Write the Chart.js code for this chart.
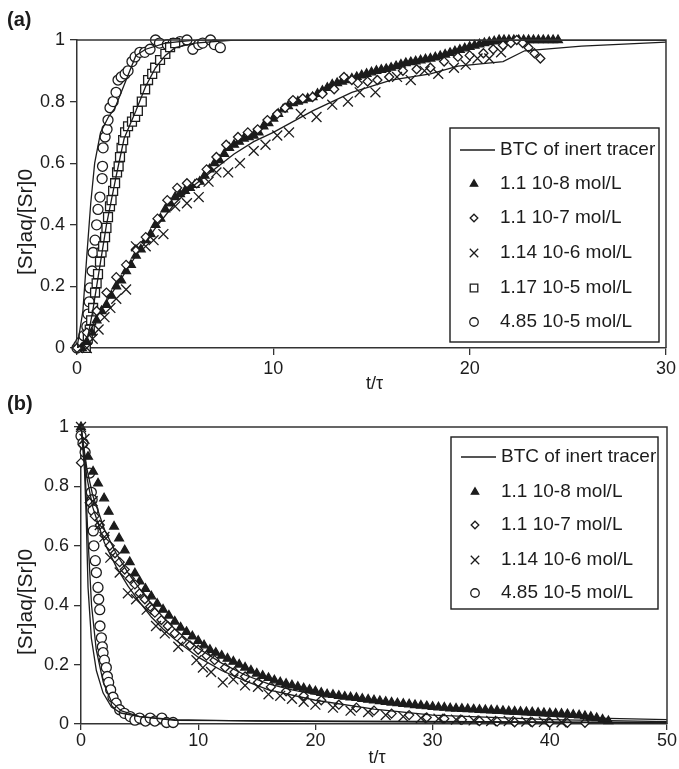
<!DOCTYPE html>
<html>
<head>
<meta charset="utf-8">
<script src="https://cdn.jsdelivr.net/npm/chart.js@4/dist/chart.umd.min.js"></script>
<style>
  body { margin: 0; background: #fff; }
  .panel { position: absolute; left: 0; }
</style>
</head>
<body>
<div class="panel" style="top:0px"><canvas id="chart-a" width="679" height="392"></canvas></div>
<div class="panel" style="top:380px"><canvas id="chart-b" width="679" height="389"></canvas></div>
<script>
// ---- panel (a) data ----
const aBtcFastX = [0, 0.3, 0.5, 0.7, 0.9, 1.2, 1.6, 1.94, 3.0, 3.5, 4.5, 6, 30];
const aBtcFastY = [0, 0.12, 0.3, 0.47, 0.6, 0.7, 0.75, 0.78, 0.95, 0.97, 0.99, 1.0, 1.0];
const aBtcMidX = [0, 0.5, 0.8, 1.0, 1.5, 2.0, 2.4, 3.0, 3.5, 4.0, 4.5, 5.0, 6, 8, 30];
const aBtcMidY = [0, 0.02, 0.12, 0.2, 0.4, 0.56, 0.68, 0.77, 0.85, 0.91, 0.95, 0.975, 0.99, 1.0, 1.0];
const aBtcSlowX = [0, 0.5, 1, 2, 3, 4, 5, 6, 7, 8, 9, 10, 12, 14, 16, 18, 19.4, 21.7, 22.8, 25.7, 30];
const aBtcSlowY = [0, 0.03, 0.1, 0.2, 0.3, 0.39, 0.47, 0.53, 0.58, 0.63, 0.67, 0.7, 0.77, 0.83, 0.87, 0.89, 0.915, 0.93, 0.965, 0.98, 0.993];

const aTriX = [0.25, 0.5, 0.75, 1, 1.25, 1.5, 1.75, 2, 2.25, 2.5, 2.75, 3, 3.25, 3.5, 3.75, 4, 4.25, 4.5, 4.75, 5,
  5.25, 5.5, 5.75, 6, 6.25, 6.5, 6.75, 7, 7.25, 7.5, 7.75, 8, 8.25, 8.5, 8.75, 9, 9.25, 9.5, 9.75, 10,
  10.25, 10.5, 10.75, 11, 11.25, 11.5, 11.75, 12, 12.25, 12.5, 12.75, 13, 13.25, 13.5, 13.75, 14, 14.25, 14.5, 14.75, 15,
  15.25, 15.5, 15.75, 16, 16.25, 16.5, 16.75, 17, 17.25, 17.5, 17.75, 18, 18.25, 18.5, 18.75, 19, 19.25, 19.5, 19.75, 20,
  20.25, 20.5, 20.75, 21, 21.25, 21.5, 21.75, 22, 22.25, 22.5, 22.75, 23, 23.25, 23.5, 23.75, 24, 24.25, 24.5];
const aTriY = [0, 0.02, 0.05, 0.09, 0.12, 0.14, 0.17, 0.2, 0.22, 0.25, 0.27, 0.3, 0.32, 0.35, 0.37, 0.4, 0.42, 0.45, 0.47, 0.49,
  0.5, 0.51, 0.52, 0.53, 0.54, 0.56, 0.58, 0.6, 0.61, 0.63, 0.65, 0.66, 0.67, 0.68, 0.685, 0.69, 0.7, 0.72, 0.73, 0.745,
  0.76, 0.775, 0.785, 0.795, 0.8, 0.805, 0.81, 0.815, 0.825, 0.835, 0.845, 0.855, 0.86, 0.865, 0.87, 0.875, 0.88, 0.885, 0.89, 0.895,
  0.9, 0.903, 0.906, 0.91, 0.915, 0.92, 0.925, 0.928, 0.931, 0.934, 0.937, 0.94, 0.944, 0.948, 0.953, 0.958, 0.963, 0.968, 0.973, 0.978,
  0.982, 0.986, 0.99, 0.993, 0.996, 1.0, 1.0, 1.0, 1.0, 1.0, 1.0, 1.0, 1.0, 1.0, 1.0, 1.0, 1.0, 1.0];
const aDiaX = [0, 0.5, 1.0, 1.5, 2.0, 2.5, 3.0, 3.5, 4.1, 4.6, 5.1, 5.6, 6.1, 6.6, 7.1, 7.6, 8.2, 8.7, 9.2, 9.7, 10.2, 10.6, 11.0, 11.5, 12.0, 12.5, 13.1, 13.6, 14.0, 14.3, 14.8, 15.3, 15.9, 16.6, 17.3, 18.0, 18.7, 19.4, 20.0, 20.7, 21.2, 21.7, 22.1, 22.4, 22.7, 23.0, 23.3, 23.6];
const aDiaY = [0, 0.05, 0.12, 0.18, 0.23, 0.27, 0.32, 0.36, 0.42, 0.48, 0.52, 0.535, 0.535, 0.58, 0.62, 0.66, 0.685, 0.7, 0.71, 0.74, 0.76, 0.78, 0.805, 0.81, 0.815, 0.825, 0.84, 0.88, 0.87, 0.86, 0.865, 0.87, 0.88, 0.9, 0.905, 0.91, 0.93, 0.945, 0.95, 0.957, 0.97, 0.983, 0.99, 1.0, 0.99, 0.975, 0.957, 0.94];
const aCrsX = [0.5, 0.8, 1.1, 1.4, 1.7, 2.0, 2.5, 3.0, 3.5, 3.9, 4.4, 5.0, 5.6, 6.2, 6.7, 7.1, 7.7, 8.3, 9.0, 9.6, 10.2, 10.8, 11.4, 12.2, 13.0, 13.8, 14.4, 15.2, 16.3, 17.0, 17.7, 18.4, 19.2, 19.8, 20.4, 21.0, 21.6];
const aCrsY = [0, 0.03, 0.06, 0.1, 0.13, 0.16, 0.19, 0.33, 0.33, 0.35, 0.37, 0.46, 0.47, 0.49, 0.54, 0.57, 0.57, 0.6, 0.64, 0.66, 0.69, 0.7, 0.76, 0.75, 0.79, 0.8, 0.83, 0.83, 0.88, 0.87, 0.9, 0.89, 0.91, 0.92, 0.94, 0.94, 0.96];
const aSqrX = [0.45, 0.55, 0.65, 0.72, 0.82, 0.92, 1.0, 1.07, 1.17, 1.25, 1.33, 1.43, 1.5, 1.58, 1.68, 1.76, 1.84, 1.94, 2.04, 2.12, 2.19, 2.27, 2.35, 2.45, 2.6, 2.8, 2.96, 3.1, 3.3, 3.47, 3.62, 3.83, 3.98, 4.23, 4.5, 4.74, 5.0];
const aSqrY = [0, 0.03, 0.06, 0.09, 0.13, 0.18, 0.21, 0.24, 0.28, 0.31, 0.33, 0.36, 0.39, 0.425, 0.46, 0.48, 0.51, 0.535, 0.57, 0.59, 0.62, 0.65, 0.675, 0.7, 0.72, 0.735, 0.75, 0.77, 0.8, 0.84, 0.87, 0.89, 0.91, 0.935, 0.955, 0.977, 0.99];
const aCirX = [0, 0.1, 0.2, 0.35, 0.5, 0.56, 0.62, 0.66, 0.77, 0.82, 0.92, 1.0, 1.07, 1.17, 1.28, 1.3, 1.33, 1.43, 1.53, 1.58, 1.68, 1.84, 1.99, 2.09, 2.25, 2.45, 2.6, 2.8, 2.96, 3.2, 3.45, 3.72, 4.0, 4.2, 4.6, 4.9, 5.25, 5.6, 5.9, 6.2, 6.4, 6.8, 7.0, 7.3];
const aCirY = [0, 0.01, 0.02, 0.04, 0.07, 0.11, 0.15, 0.195, 0.25, 0.31, 0.35, 0.4, 0.45, 0.49, 0.55, 0.59, 0.65, 0.685, 0.71, 0.74, 0.78, 0.8, 0.83, 0.87, 0.88, 0.89, 0.9, 0.93, 0.945, 0.96, 0.96, 0.97, 1.0, 0.99, 0.985, 0.99, 0.995, 1.0, 0.97, 0.985, 0.99, 1.0, 0.985, 0.975];

// ---- panel (b) data ----
const bBtcFastX = [0, 0.15, 0.3, 0.45, 0.6, 0.88, 1.31, 1.88, 2.6, 3.4, 5, 8, 15, 30, 50];
const bBtcFastY = [1, 0.93, 0.855, 0.69, 0.46, 0.29, 0.18, 0.105, 0.057, 0.037, 0.025, 0.015, 0.01, 0.006, 0.004];
const bBtcFast2X = [0, 0.3, 0.6, 0.9, 1.3, 1.9, 2.6, 3.4, 5, 8, 50];
const bBtcFast2Y = [1, 0.9, 0.62, 0.4, 0.25, 0.14, 0.075, 0.045, 0.025, 0.012, 0.005];
const bBtcSlowX = [0, 0.5, 1, 2, 3, 4, 5, 6, 7, 8, 9, 10, 12, 14, 16, 18, 20, 23.8, 28, 32.4, 36, 40.9, 45, 50];
const bBtcSlowY = [1, 0.86, 0.77, 0.655, 0.575, 0.51, 0.455, 0.405, 0.36, 0.32, 0.285, 0.255, 0.205, 0.165, 0.135, 0.115, 0.1, 0.081, 0.062, 0.047, 0.035, 0.024, 0.019, 0.015];
const bBtcSlow2X = [0, 0.5, 1, 2, 3, 4, 5, 6, 7, 8, 10, 12, 14, 16, 20, 25, 30, 40, 50];
const bBtcSlow2Y = [1, 0.83, 0.73, 0.61, 0.53, 0.465, 0.41, 0.36, 0.32, 0.285, 0.225, 0.18, 0.145, 0.115, 0.08, 0.05, 0.03, 0.015, 0.008];

const bTriX = [0, 0.6, 1.03, 1.45, 1.97, 2.36, 2.82, 3.25, 3.73, 4.16, 4.6, 5.0, 5.5, 6.0, 6.5, 7.0, 7.5, 8.0, 8.5, 9, 9.5, 10, 10.5, 11, 11.5,
  12, 12.5, 13, 13.5, 14, 14.5, 15, 15.5, 16, 16.5, 17, 17.5, 18, 18.5, 19, 19.5, 20, 20.5, 21, 21.5, 22, 22.5, 23, 23.5, 24, 24.5,
  25, 25.5, 26, 26.5, 27, 27.5, 28, 28.5, 29, 29.5, 30, 30.5, 31, 31.5, 32, 32.5, 33, 33.5, 34, 34.5, 35, 35.5, 36, 36.5,
  37, 37.5, 38, 38.5, 39, 39.5, 40, 40.5, 41, 41.5, 42, 42.5, 43, 43.5, 44, 44.5, 45];
const bTriY = [1.0, 0.9, 0.85, 0.81, 0.76, 0.715, 0.665, 0.625, 0.585, 0.545, 0.507, 0.48, 0.455, 0.43, 0.405, 0.385, 0.365, 0.345, 0.325, 0.31, 0.295, 0.28, 0.265, 0.25, 0.24,
  0.23, 0.22, 0.21, 0.2, 0.19, 0.18, 0.17, 0.162, 0.155, 0.147, 0.14, 0.135, 0.13, 0.125, 0.12, 0.115, 0.11, 0.105, 0.1, 0.098, 0.095, 0.092, 0.09, 0.088, 0.085, 0.082,
  0.08, 0.077, 0.075, 0.072, 0.07, 0.068, 0.066, 0.064, 0.062, 0.06, 0.058, 0.056, 0.055, 0.053, 0.052, 0.051, 0.05, 0.049, 0.048, 0.047, 0.046, 0.045, 0.044, 0.043,
  0.042, 0.041, 0.04, 0.039, 0.038, 0.037, 0.036, 0.035, 0.034, 0.033, 0.031, 0.029, 0.027, 0.024, 0.02, 0.015, 0.01];
const bDiaX = [0, 0.15, 0.74, 1.17, 1.6, 2.0, 2.45, 2.9, 3.3, 3.73, 4.16, 4.6, 5.0, 5.45, 5.9, 6.3, 6.86, 7.4, 8.0, 8.6, 9.3, 10, 10.7, 11.4, 12.3, 13.1, 14, 15.1, 16.2, 17.5, 19, 20.5, 22, 23.5, 25, 26.5, 28, 29.5, 31, 32.5, 34, 35.5, 37, 38.5, 40, 41.5, 43];
const bDiaY = [0.88, 0.94, 0.745, 0.7, 0.67, 0.635, 0.6, 0.575, 0.545, 0.52, 0.49, 0.47, 0.44, 0.42, 0.395, 0.375, 0.35, 0.33, 0.305, 0.28, 0.265, 0.25, 0.23, 0.215, 0.19, 0.175, 0.16, 0.14, 0.125, 0.11, 0.095, 0.08, 0.065, 0.055, 0.045, 0.035, 0.03, 0.022, 0.018, 0.014, 0.01, 0.008, 0.006, 0.006, 0.005, 0.004, 0.004];
const bCrsX = [0, 0.3, 1.0, 1.6, 2.0, 2.5, 3.3, 4.0, 4.7, 5.6, 6.4, 7.15, 8.3, 9.85, 10.4, 11.1, 12.1, 13, 14, 15.1, 16, 17, 18, 19, 20, 21.5, 23, 24.5, 26, 27.5, 29, 30.5, 32, 33.5, 35, 36.5, 38, 39.5, 41];
const bCrsY = [1.0, 0.96, 0.75, 0.67, 0.63, 0.56, 0.51, 0.44, 0.42, 0.385, 0.33, 0.305, 0.26, 0.215, 0.19, 0.175, 0.14, 0.15, 0.13, 0.125, 0.1, 0.095, 0.085, 0.075, 0.065, 0.055, 0.045, 0.04, 0.03, 0.025, 0.02, 0.018, 0.015, 0.012, 0.01, 0.01, 0.008, 0.007, 0.006];
const bCirX = [0, 0.17, 0.35, 0.74, 0.88, 0.95, 1.03, 1.05, 1.1, 1.22, 1.31, 1.45, 1.51, 1.6, 1.62, 1.74, 1.82, 1.88, 2.0, 2.16, 2.25, 2.36, 2.53, 2.73, 3.0, 3.3, 3.7, 4.2, 4.6, 5.0, 5.5, 5.9, 6.3, 6.9, 7.3, 7.86];
const bCirY = [0.97, 0.946, 0.915, 0.845, 0.78, 0.755, 0.72, 0.65, 0.6, 0.55, 0.51, 0.46, 0.42, 0.385, 0.33, 0.29, 0.26, 0.24, 0.215, 0.19, 0.16, 0.14, 0.115, 0.09, 0.07, 0.048, 0.036, 0.025, 0.013, 0.02, 0.01, 0.02, 0.01, 0.02, 0.005, 0.005];

const ink = '#1c1c1c';
const fontFamily = '"Liberation Sans", Arial, sans-serif';

function pts(xs, ys) {
  return xs.map((x, i) => ({ x: x, y: ys[i] }));
}

function curve(xs, ys, label) {
  return {
    type: 'line', label: label, data: pts(xs, ys),
    borderColor: ink, borderWidth: 1.3, pointRadius: 0, tension: 0, fill: false
  };
}

function marks(xs, ys, label, style, radius, filled) {
  return {
    type: 'scatter', label: label, data: pts(xs, ys),
    pointStyle: style, pointRadius: radius, pointBorderWidth: 1.3,
    pointBorderColor: ink, pointBackgroundColor: filled ? ink : '#fff',
    clip: false
  };
}

// draws the frame, legend box and the panel texts
const panelDecor = {
  id: 'panelDecor',
  afterDraw(chart, args, o) {
    const { ctx, chartArea: a } = chart;
    ctx.save();
    ctx.strokeStyle = '#333';
    ctx.lineWidth = 1.5;
    ctx.beginPath();
    ctx.moveTo(a.left, a.top);
    ctx.lineTo(a.right, a.top);
    ctx.lineTo(a.right, a.bottom);
    ctx.stroke();

    // legend
    const lg = o.legend;
    ctx.fillStyle = '#fff';
    ctx.fillRect(lg.x, lg.y, lg.w, lg.h);
    ctx.strokeStyle = ink;
    ctx.lineWidth = 1.4;
    ctx.strokeRect(lg.x, lg.y, lg.w, lg.h);
    ctx.font = '19px ' + fontFamily;
    ctx.textBaseline = 'middle';
    ctx.textAlign = 'left';
    lg.items.forEach((item, i) => {
      const y = lg.rows[i];
      const ds = chart.data.datasets[item];
      if (ds.type === 'line') {
        ctx.strokeStyle = ink;
        ctx.lineWidth = 1.3;
        ctx.beginPath();
        ctx.moveTo(lg.x + 10, y);
        ctx.lineTo(lg.x + 45, y);
        ctx.stroke();
      } else {
        ctx.strokeStyle = ink;
        ctx.fillStyle = ds.pointBackgroundColor;
        ctx.lineWidth = 1.3;
        Chart.helpers.drawPoint(ctx, {
          pointStyle: ds.pointStyle, radius: ds.pointRadius * 0.85, rotation: 0, borderWidth: 1.3
        }, lg.x + 24, y);
      }
      ctx.fillStyle = ink;
      ctx.fillText(ds.label, lg.x + 50, y);
    });

    // panel letter and axis titles
    ctx.fillStyle = ink;
    ctx.font = 'bold 20px ' + fontFamily;
    ctx.fillText(o.letter, 7, o.letterY);
    ctx.font = '18px ' + fontFamily;
    ctx.textAlign = 'center';
    ctx.fillText('t/τ', (a.left + a.right) / 2 + 3, o.xTitleY);
    ctx.font = '21px ' + fontFamily;
    ctx.translate(26, o.yTitleY);
    ctx.rotate(-Math.PI / 2);
    ctx.fillText('[Sr]aq/[Sr]0', 0, 0);
    ctx.restore();
  }
};

function axes(xMax, plotLeft, xHeight, xPad, tickLen) {
  const tickFont = { family: fontFamily, size: 18 };
  return {
    x: {
      type: 'linear', min: 0, max: xMax,
      ticks: { stepSize: 10, color: ink, font: tickFont, padding: xPad, maxRotation: 0 },
      grid: { drawOnChartArea: false, tickLength: tickLen, color: '#333', lineWidth: 1.3 },
      border: { color: '#333', width: 1.5 },
      afterFit(scale) { scale.height = xHeight; }
    },
    y: {
      type: 'linear', min: 0, max: 1,
      ticks: {
        stepSize: 0.2, color: ink, font: tickFont, padding: 5,
        callback: value => String(Math.round(value * 10) / 10)
      },
      grid: { drawOnChartArea: false, tickLength: 7, color: '#333', lineWidth: 1.3 },
      border: { color: '#333', width: 1.5 },
      afterFit(scale) { scale.width = plotLeft; }
    }
  };
}

new Chart(document.getElementById('chart-a'), {
  type: 'scatter',
  data: {
    datasets: [
      curve(aBtcFastX, aBtcFastY, 'BTC of inert tracer'),
      curve(aBtcMidX, aBtcMidY, ''),
      curve(aBtcSlowX, aBtcSlowY, ''),
      marks(aCrsX, aCrsY, '1.14 10-6 mol/L', 'crossRot', 7, false),
      marks(aDiaX, aDiaY, '1.1 10-7 mol/L', 'rectRot', 4.5, false),
      marks(aTriX, aTriY, '1.1 10-8 mol/L', 'triangle', 5, true),
      marks(aSqrX, aSqrY, '1.17 10-5 mol/L', 'rect', 6.3, false),
      marks(aCirX, aCirY, '4.85 10-5 mol/L', 'circle', 5, false)
    ]
  },
  options: {
    responsive: false,
    animation: false,
    devicePixelRatio: 1,
    layout: { padding: { left: 0, right: 12, top: 40, bottom: 0 } },
    scales: axes(30, 77, 44, 3, 7),
    plugins: {
      legend: { display: false },
      tooltip: { enabled: false },
      panelDecor: {
        letter: '(a)', letterY: 20, xTitleY: 384, yTitleY: 222,
        legend: { x: 450, y: 128, w: 209, h: 214, items: [0, 5, 4, 3, 6, 7], rows: [150, 184, 218, 253, 288, 322] }
      }
    }
  },
  plugins: [panelDecor]
});

new Chart(document.getElementById('chart-b'), {
  type: 'scatter',
  data: {
    datasets: [
      curve(bBtcFastX, bBtcFastY, 'BTC of inert tracer'),
      curve(bBtcFast2X, bBtcFast2Y, ''),
      curve(bBtcSlowX, bBtcSlowY, ''),
      curve(bBtcSlow2X, bBtcSlow2Y, ''),
      marks(bCrsX, bCrsY, '1.14 10-6 mol/L', 'crossRot', 7, false),
      marks(bDiaX, bDiaY, '1.1 10-7 mol/L', 'rectRot', 4.5, false),
      marks(bTriX, bTriY, '1.1 10-8 mol/L', 'triangle', 5, true),
      marks(bCirX, bCirY, '4.85 10-5 mol/L', 'circle', 5, false)
    ]
  },
  options: {
    responsive: false,
    animation: false,
    devicePixelRatio: 1,
    layout: { padding: { left: 0, right: 12, top: 47, bottom: 0 } },
    scales: axes(50, 81, 45, 0, 6),
    plugins: {
      legend: { display: false },
      tooltip: { enabled: false },
      panelDecor: {
        letter: '(b)', letterY: 24, xTitleY: 378, yTitleY: 222,
        legend: { x: 451, y: 57, w: 207, h: 172, items: [0, 6, 5, 4, 7], rows: [77, 112, 145, 180, 213] }
      }
    }
  },
  plugins: [panelDecor]
});
</script>
</body>
</html>
